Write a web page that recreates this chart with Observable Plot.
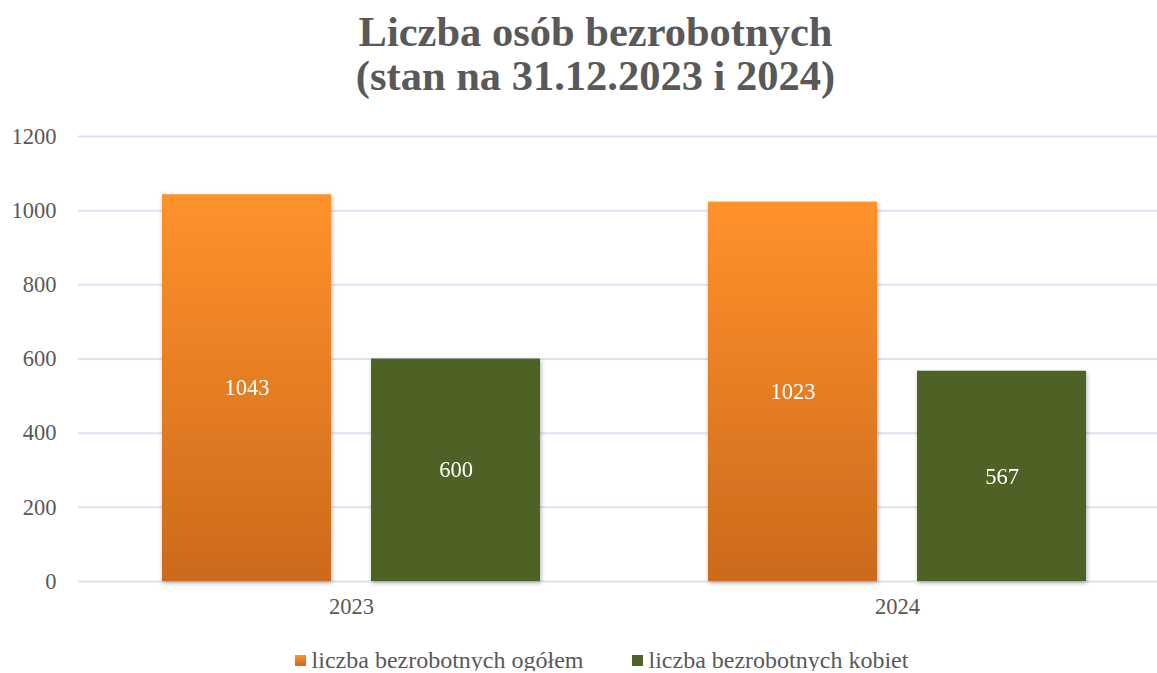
<!DOCTYPE html>
<html><head><meta charset="utf-8">
<script src="https://cdn.jsdelivr.net/npm/d3@7"></script>
<script src="https://cdn.jsdelivr.net/npm/@observablehq/plot@0.6"></script>
<style>
html,body{margin:0;padding:0;background:#fff;overflow:hidden;font-family:"Liberation Serif","Times New Roman",serif;}
#title{height:110px;box-sizing:border-box;padding-top:10px;padding-left:34px;text-align:center;font-weight:bold;font-size:42.5px;line-height:44px;color:#595959;}
#chart{height:520px;}
#legend{display:flex;justify-content:center;align-items:center;padding-top:19px;padding-left:46px;line-height:22px;font-size:24px;color:#595959;}
.item{display:flex;align-items:center;}
.item + .item{margin-left:48px;}
.sw{width:11px;height:11px;margin-right:6px;}
</style></head><body>
<div id="title">Liczba osób bezrobotnych<br>(stan na 31.12.2023 i 2024)</div>
<div id="chart"></div>
<div id="legend"></div>
<script>
const years = ["2023", "2024"];
const series = ["liczba bezrobotnych ogółem", "liczba bezrobotnych kobiet"];
const totalValues = [1043, 1023];
const womenValues = [600, 567];
const yTicks = [0, 200, 400, 600, 800, 1000, 1200];
const seriesColors = ["url(#gradOrange)", "#4F6228"];

const data = years.flatMap((y, i) => [
  {year: y, series: series[0], value: totalValues[i]},
  {year: y, series: series[1], value: womenValues[i]}
]);

const font = '"Liberation Serif","Times New Roman",serif';

const chart = Plot.plot({
  width: 1157, height: 520,
  marginTop: 26, marginBottom: 49, marginLeft: 77, marginRight: 0,
  style: {fontFamily: font, fontSize: "22.5px", color: "#595959", background: "transparent", overflow: "hidden"},
  fx: {domain: years, range: [77, 1170], paddingInner: 0, paddingOuter: 0, label: null},
  x: {domain: series, paddingInner: 0.19, paddingOuter: 0.3976, axis: null},
  y: {domain: [0, 1200], axis: null},
  color: {domain: series, range: seriesColors},
  marks: [
    Plot.ruleY(yTicks, {stroke: "#D9E3F2", strokeWidth: 2}),
    Plot.barY(data, {fx: "year", x: "series", y: "value", fill: "series"}),
    Plot.text(data, {fx: "year", x: "series", y: d => d.value / 2, text: d => String(d.value), fill: "white", fontSize: 22.5, fontFamily: font}),
    Plot.axisY({ticks: yTicks, tickFormat: d => String(d), tickSize: 0, tickPadding: 22, fontSize: 22.5, fontFamily: font, fill: "#595959", label: null}),
    Plot.axisFx({anchor: "bottom", tickSize: 0, tickPadding: 17, fontSize: 22.5, fontFamily: font, fill: "#595959", label: null})
  ]
});

const svg = d3.select(chart);
const defs = svg.insert("defs", ":first-child");
const g = defs.append("linearGradient").attr("id", "gradOrange")
  .attr("x1", 0).attr("y1", 0).attr("x2", 0).attr("y2", 1);
g.append("stop").attr("offset", "0%").attr("stop-color", "#FF922B");
g.append("stop").attr("offset", "100%").attr("stop-color", "#CC691C");
const f = defs.append("filter").attr("id", "shadow").attr("x", "-10%").attr("y", "-10%").attr("width", "130%").attr("height", "130%");
f.append("feDropShadow").attr("dx", 1).attr("dy", 2).attr("stdDeviation", 2)
  .attr("flood-color", "#000").attr("flood-opacity", 0.3);
svg.selectAll('g[aria-label="bar"]').attr("filter", "url(#shadow)");

document.getElementById("chart").appendChild(chart);

const legend = d3.select("#legend");
const swatchBg = ["linear-gradient(#FF922B,#CC691C)", "#4F6228"];
series.forEach((s, i) => {
  const it = legend.append("div").attr("class", "item");
  it.append("div").attr("class", "sw").style("background", swatchBg[i]);
  it.append("span").text(s);
});
</script>
</body></html>
